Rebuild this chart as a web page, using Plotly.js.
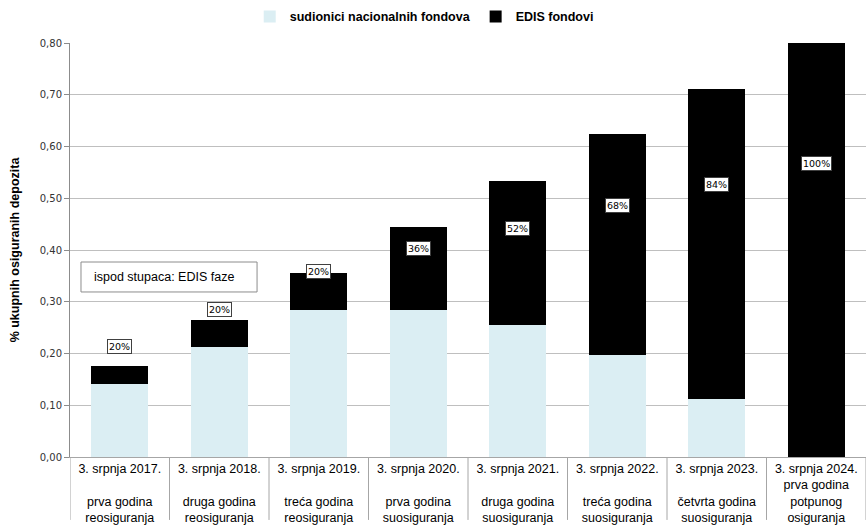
<!DOCTYPE html>
<html>
<head>
<meta charset="utf-8">
<script src="https://cdn.plot.ly/plotly-3.0.1.min.js"></script>
<style>html,body{margin:0;padding:0;background:#fff;}#chart{width:866px;height:527px;}</style>
</head>
<body>
<div id="chart"></div>
<script>
// ---- data ----
const dates = ["3. srpnja 2017.", "3. srpnja 2018.", "3. srpnja 2019.", "3. srpnja 2020.",
               "3. srpnja 2021.", "3. srpnja 2022.", "3. srpnja 2023.", "3. srpnja 2024."];
const phases = [["prva godina", "reosiguranja"], ["druga godina", "reosiguranja"],
                ["treća godina", "reosiguranja"], ["prva godina", "suosiguranja"],
                ["druga godina", "suosiguranja"], ["treća godina", "suosiguranja"],
                ["četvrta godina", "suosiguranja"], ["prva godina", "potpunog", "osiguranja"]];
const nationalFunds = [0.141, 0.213, 0.284, 0.284, 0.255, 0.197, 0.112, 0.0];
const edisFunds     = [0.035, 0.052, 0.071, 0.160, 0.278, 0.427, 0.599, 0.800];
const edisShare     = ["20%", "20%", "20%", "36%", "52%", "68%", "84%", "100%"];
const yTicks = [0, 0.1, 0.2, 0.3, 0.4, 0.5, 0.6, 0.7, 0.8];

// ---- build ----
const idx = dates.map((d, i) => i);
const tickText = dates.map((d, i) => {
  const p = phases[i];
  return p.length === 3 ? d + "<br>" + p.join("<br>") : d + "<br><br>" + p.join("<br>");
});

const traces = [
  {type: "bar", name: "sudionici nacionalnih fondova", x: idx, y: nationalFunds,
   marker: {color: "#DBEEF3"}, hoverinfo: "skip"},
  {type: "bar", name: "EDIS fondovi", x: idx, y: edisFunds,
   marker: {color: "#000000"}, hoverinfo: "skip"}
];

// label placement (style): first three above the bar, the rest inside the black part
const aboveShift = [19, 10, 2];
const insideShift = [0, 0, 0, 4, -4, -5, -2, 4];
const annotations = idx.map(i => {
  const total = nationalFunds[i] + edisFunds[i];
  const above = i < 3;
  return {
    x: i, xref: "x", yref: "y",
    y: above ? total : nationalFunds[i] + 0.7 * edisFunds[i],
    yshift: above ? aboveShift[i] : insideShift[i],
    text: edisShare[i], showarrow: false,
    font: {family: "DejaVu Sans", size: 9.5, color: "#000"},
    bgcolor: "#ffffff", bordercolor: "#404040", borderwidth: 1, borderpad: 1,
    xanchor: "center", yanchor: "middle"
  };
});
annotations.push({
  xref: "paper", yref: "paper", x: 0.0276, y: 0.435, xanchor: "left", yanchor: "middle",
  text: "ispod stupaca: EDIS faze", showarrow: false,
  font: {family: "Liberation Sans, Arial", size: 12.5, color: "#000"}
});

const shapes = [{
  type: "rect", xref: "paper", yref: "paper", x0: 0.0138, x1: 0.235, y0: 0.3986, y1: 0.471,
  line: {color: "#8c8c8c", width: 1}, fillcolor: "#ffffff", layer: "above"
}];
for (let i = 0; i <= dates.length; i++) {
  shapes.push({type: "line", xref: "x", yref: "paper", x0: i - 0.5, x1: i - 0.5,
               y0: 0, y1: -0.152, line: {color: "#a6a6a6", width: 1}});
}

const layout = {
  width: 866, height: 527,
  margin: {l: 70, r: 0, t: 43, b: 70},
  barmode: "stack", bargap: 0.43,
  separators: ", ",
  paper_bgcolor: "#ffffff", plot_bgcolor: "#ffffff",
  font: {family: "Liberation Sans, Arial", color: "#000"},
  showlegend: true,
  legend: {orientation: "h", x: 0.445, xanchor: "center", y: 1.063, yanchor: "middle",
           font: {family: "Liberation Sans, Arial", size: 12.5, color: "#000", weight: "bold"},
           itemwidth: 30, traceorder: "normal", bgcolor: "rgba(0,0,0,0)"},
  xaxis: {
    type: "linear", range: [-0.5, dates.length - 0.5],
    tickmode: "array", tickvals: idx, ticktext: tickText,
    tickfont: {family: "Liberation Sans, Arial", size: 12.5, color: "#000"},
    showgrid: false, zeroline: false, showline: true, linecolor: "#a6a6a6", linewidth: 1,
    ticks: "", fixedrange: true
  },
  yaxis: {
    range: [0, 0.8], tickmode: "array", tickvals: yTicks, tickformat: ".2f",
    tickfont: {family: "DejaVu Sans", size: 10, color: "#333"},
    showgrid: true, gridcolor: "#bfbfbf", gridwidth: 1, zeroline: false,
    showline: true, linecolor: "#8c8c8c", linewidth: 1,
    ticks: "outside", ticklen: 5, tickcolor: "#8c8c8c",
    title: {text: "% ukupnih osiguranih depozita", standoff: 17,
            font: {family: "Liberation Sans, Arial", size: 12.5, color: "#000", weight: "bold"}},
    fixedrange: true
  },
  annotations: annotations,
  shapes: shapes
};

Plotly.newPlot("chart", traces, layout, {displayModeBar: false, staticPlot: true});
</script>
</body>
</html>
